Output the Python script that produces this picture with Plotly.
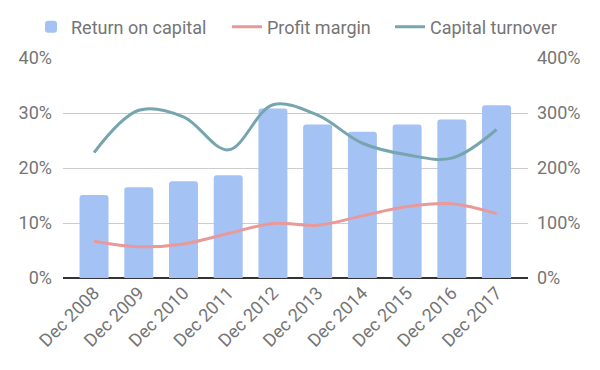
import plotly.graph_objects as go

years = ["Dec 2008", "Dec 2009", "Dec 2010", "Dec 2011", "Dec 2012",
         "Dec 2013", "Dec 2014", "Dec 2015", "Dec 2016", "Dec 2017"]
return_on_capital = [0.151, 0.165, 0.176, 0.187, 0.308, 0.279, 0.266, 0.279, 0.288, 0.314]
profit_margin = [0.067, 0.057, 0.062, 0.081, 0.099, 0.096, 0.113, 0.130, 0.135, 0.117]
capital_turnover = [2.28, 3.05, 2.93, 2.33, 3.15, 2.96, 2.45, 2.24, 2.18, 2.70]

txt = "#757575"
W, H = 592, 362
fig = go.Figure()
fig.add_trace(go.Bar(x=years, y=return_on_capital, name="Return on capital",
                     marker=dict(color="#a4c2f4", cornerradius=3, line=dict(width=0)),
                     yaxis="y", legend="legend"))
fig.add_trace(go.Scatter(x=years, y=profit_margin, name="Profit margin", mode="lines",
                         line=dict(color="#ea9999", width=3, shape="spline", smoothing=1),
                         yaxis="y", legend="legend2"))
fig.add_trace(go.Scatter(x=years, y=capital_turnover, name="Capital turnover", mode="lines",
                         line=dict(color="#76a5af", width=3, shape="spline", smoothing=1),
                         yaxis="y2", legend="legend3"))


def leg(xpx):
    return dict(orientation="h", xref="container", yref="container",
                x=xpx / W, xanchor="left", y=1 - 19 / H, yanchor="middle",
                font=dict(size=18, color=txt), itemwidth=30, bgcolor="rgba(0,0,0,0)")


fig.update_layout(
    width=W, height=H,
    margin=dict(l=55, r=72, t=50, b=92, autoexpand=False),
    paper_bgcolor="white", plot_bgcolor="white",
    font=dict(family="Roboto", size=16, color=txt),
    bargap=0.352,
    showlegend=True,
    legend=leg(23), legend2=leg(219), legend3=leg(382),
    xaxis=dict(tickangle=-45, showgrid=False, showline=False, ticks="", automargin=False,
               range=[-0.694, 9.703], tickfont=dict(size=18, color=txt)),
    yaxis=dict(range=[0, 0.4], dtick=0.1, tickformat=".0%", showgrid=True, automargin=False,
               gridcolor="#cccccc", gridwidth=1, zeroline=True, zerolinecolor="#333333",
               zerolinewidth=2, ticks="", ticklabelstandoff=10, tickfont=dict(size=18)),
    yaxis2=dict(range=[0, 4], dtick=1, tickformat=".0%", overlaying="y", side="right",
                automargin=False, tickfont=dict(size=18),
                showgrid=False, zeroline=False, ticks="", ticklabelstandoff=8),
)
fig.write_html("out.html")
